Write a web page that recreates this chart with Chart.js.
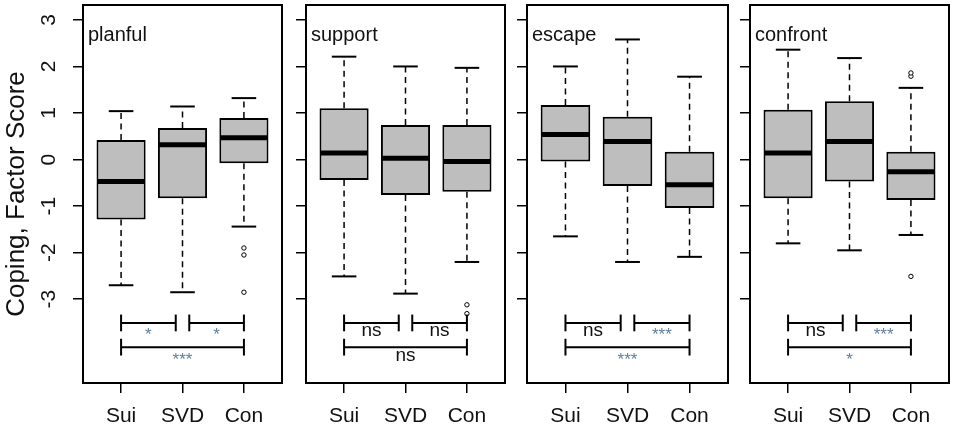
<!DOCTYPE html>
<html>
<head>
<meta charset="utf-8">
<script src="https://cdn.jsdelivr.net/npm/chart.js@4.4.1/dist/chart.umd.min.js"></script>
<style>
  html, body { margin: 0; padding: 0; background: #fff; }
  #wrap { position: relative; width: 957px; height: 428px; overflow: hidden; }
</style>
</head>
<body>
<div id="wrap"></div>
<script>
// groups on the x axis
const categories = ['Sui', 'SVD', 'Con'];
const panelNames = ['planful', 'support', 'escape', 'confront'];
const yTicks = [-3, -2, -1, 0, 1, 2, 3];

// per group: [lower whisker, Q1, median, Q3, upper whisker]
const planful = [[-2.70, -1.29, -0.47, 0.42, 1.04], [-2.85, -0.83, 0.32, 0.68, 1.14], [-1.44, -0.08, 0.47, 0.89, 1.32]];
const support = [[-2.51, -0.44, 0.14, 1.10, 2.21], [-2.88, -0.76, 0.03, 0.74, 2.00], [-2.20, -0.69, -0.04, 0.74, 1.97]];
const escape = [[-1.65, -0.04, 0.54, 1.17, 2.00], [-2.20, -0.57, 0.39, 0.92, 2.58], [-2.09, -1.04, -0.54, 0.17, 1.78]];
const confront = [[-1.80, -0.83, 0.14, 1.07, 2.36], [-1.95, -0.47, 0.39, 1.25, 2.18], [-1.62, -0.87, -0.26, 0.17, 1.54]];

// outliers per group
const planfulOut = [[], [], [-1.90, -2.05, -2.85]];
const supportOut = [[], [], [-3.12, -3.31]];
const escapeOut = [[], [], []];
const confrontOut = [[], [], [1.79, 1.86, -2.51]];

// pairwise tests: Sui-SVD, SVD-Con, Sui-Con
const pairs = [[1, 2], [2, 3], [1, 3]];
const planfulSig = ['*', '*', '***'];
const supportSig = ['ns', 'ns', 'ns'];
const escapeSig = ['ns', '***', '***'];
const confrontSig = ['ns', '***', '*'];

const FONT = "'Liberation Sans', Arial, Helvetica, sans-serif";
Chart.defaults.font.family = FONT;

function line(ctx, x1, y1, x2, y2) {
    ctx.beginPath();
    ctx.moveTo(x1, y1);
    ctx.lineTo(x2, y2);
    ctx.stroke();
}

// whiskers, medians, test brackets and the frame
const boxPlugin = {
    id: 'boxplot',
    afterDatasetsDraw(chart, args, opts) {
        const ctx = chart.ctx;
        const a = chart.chartArea;
        const xs = chart.scales.x;
        const ys = chart.scales.y;
        const py = v => ys.getPixelForValue(v);
        const half = xs.getPixelForValue(1.4) - xs.getPixelForValue(1);
        const staple = half / 2;

        ctx.save();
        ctx.strokeStyle = '#000';
        opts.stats.forEach((s, i) => {
            const cx = xs.getPixelForValue(i + 1);
            ctx.lineWidth = 1.5;
            ctx.setLineDash([6, 4.5]);
            line(ctx, cx, py(s[3]), cx, py(s[4]));
            line(ctx, cx, py(s[1]), cx, py(s[0]));
            ctx.setLineDash([]);
            ctx.lineWidth = 2;
            line(ctx, cx - staple, py(s[4]), cx + staple, py(s[4]));
            line(ctx, cx - staple, py(s[0]), cx + staple, py(s[0]));
            ctx.lineWidth = 5;
            line(ctx, cx - half + 1, py(s[2]), cx + half - 1, py(s[2]));
        });

        // significance brackets
        pairs.forEach((p, j) => {
            const row = j < 2 ? -3.51 : -4.03;
            const lo = p[0] + (j < 2 && p[0] === 2 ? 0.11 : 0);
            const hi = p[1] - (j < 2 && p[1] === 2 ? 0.11 : 0);
            const x1 = xs.getPixelForValue(lo);
            const x2 = xs.getPixelForValue(hi);
            const yy = py(row);
            ctx.lineWidth = 2;
            line(ctx, x1, yy, x2, yy);
            line(ctx, x1, py(row + 0.18), x1, py(row - 0.18));
            line(ctx, x2, py(row + 0.18), x2, py(row - 0.18));
            const lab = opts.sig[j];
            ctx.textAlign = 'center';
            ctx.textBaseline = 'alphabetic';
            if (lab === 'ns') {
                ctx.fillStyle = '#111';
                ctx.font = '19px ' + FONT;
                ctx.fillText(lab, (x1 + x2) / 2, yy + 13.5);
            } else {
                ctx.fillStyle = '#5f7f9f';
                ctx.font = '17px ' + FONT;
                ctx.fillText(lab, (x1 + x2) / 2, yy + 17.5);
            }
        });

        // frame
        ctx.lineWidth = 2;
        ctx.strokeRect(a.left, a.top, a.right - a.left, a.bottom - a.top);

        // panel title
        ctx.fillStyle = '#111';
        ctx.font = '20px ' + FONT;
        ctx.textAlign = 'left';
        ctx.textBaseline = 'alphabetic';
        ctx.fillText(opts.name, a.left + 5, 41);

        if (opts.first) {
            ctx.font = '21px ' + FONT;
            ctx.textAlign = 'center';
            ctx.textBaseline = 'middle';
            yTicks.forEach(v => {
                ctx.save();
                ctx.translate(49, py(v));
                ctx.rotate(-Math.PI / 2);
                ctx.fillText(String(v), 0, 0);
                ctx.restore();
            });
            ctx.save();
            ctx.font = '26px ' + FONT;
            ctx.translate(17, (a.top + a.bottom) / 2);
            ctx.rotate(-Math.PI / 2);
            ctx.fillText('Coping, Factor Score', 0, 0);
            ctx.restore();
        }
        ctx.restore();
    }
};

const frameLefts = [83, 306, 527, 750];
const wrap = document.getElementById('wrap');

function buildPanel(k, stats, outs, sig) {
    const axisW = k === 0 ? 83 : 14;
    const w = axisW + 201 + 3;
    const cv = document.createElement('canvas');
    cv.width = w;
    cv.height = 428;
    cv.style.cssText = 'position:absolute;top:0;left:' + (frameLefts[k] - axisW) + 'px;width:' + w + 'px;height:428px';
    wrap.appendChild(cv);

    const tickGrid = { display: true, offset: false, drawOnChartArea: false, drawTicks: true, tickLength: 10, color: '#000', lineWidth: 1.5 };

    new Chart(cv.getContext('2d'), {
        type: 'bar',
        data: {
            datasets: [{
                type: 'bar',
                data: stats.map((s, i) => ({ x: i + 1, y: [s[1], s[3]] })),
                backgroundColor: '#bebebe',
                borderColor: '#000',
                borderWidth: 2,
                borderSkipped: false,
                barPercentage: 1,
                categoryPercentage: 0.8
            }, {
                type: 'scatter',
                data: outs.flatMap((o, i) => o.map(v => ({ x: i + 1, y: v }))),
                pointRadius: 2.2,
                pointBorderWidth: 1,
                pointBackgroundColor: '#fff',
                pointBorderColor: '#000'
            }]
        },
        options: {
            responsive: false,
            animation: false,
            devicePixelRatio: 1,
            layout: { padding: { top: 5, right: 3, left: 0, bottom: 0 } },
            plugins: {
                legend: { display: false },
                tooltip: { enabled: false },
                boxplot: { name: panelNames[k], stats: stats, sig: sig, first: k === 0 }
            },
            scales: {
                x: {
                    type: 'linear',
                    offset: false,
                    min: 0.38,
                    max: 3.62,
                    afterBuildTicks: s => { s.ticks = categories.map((c, i) => ({ value: i + 1 })); },
                    afterFit: s => { s.height = 45; },
                    ticks: { callback: v => categories[v - 1], font: { size: 21 }, color: '#111', padding: 11, maxRotation: 0, autoSkip: false },
                    grid: tickGrid,
                    border: { display: false }
                },
                y: {
                    min: -4.80,
                    max: 3.32,
                    afterBuildTicks: s => { s.ticks = yTicks.map(v => ({ value: v })); },
                    afterFit: s => { s.width = axisW; },
                    ticks: { display: false },
                    grid: tickGrid,
                    border: { display: false }
                }
            }
        },
        plugins: [boxPlugin]
    });
}

buildPanel(0, planful, planfulOut, planfulSig);
buildPanel(1, support, supportOut, supportSig);
buildPanel(2, escape, escapeOut, escapeSig);
buildPanel(3, confront, confrontOut, confrontSig);
</script>
</body>
</html>
